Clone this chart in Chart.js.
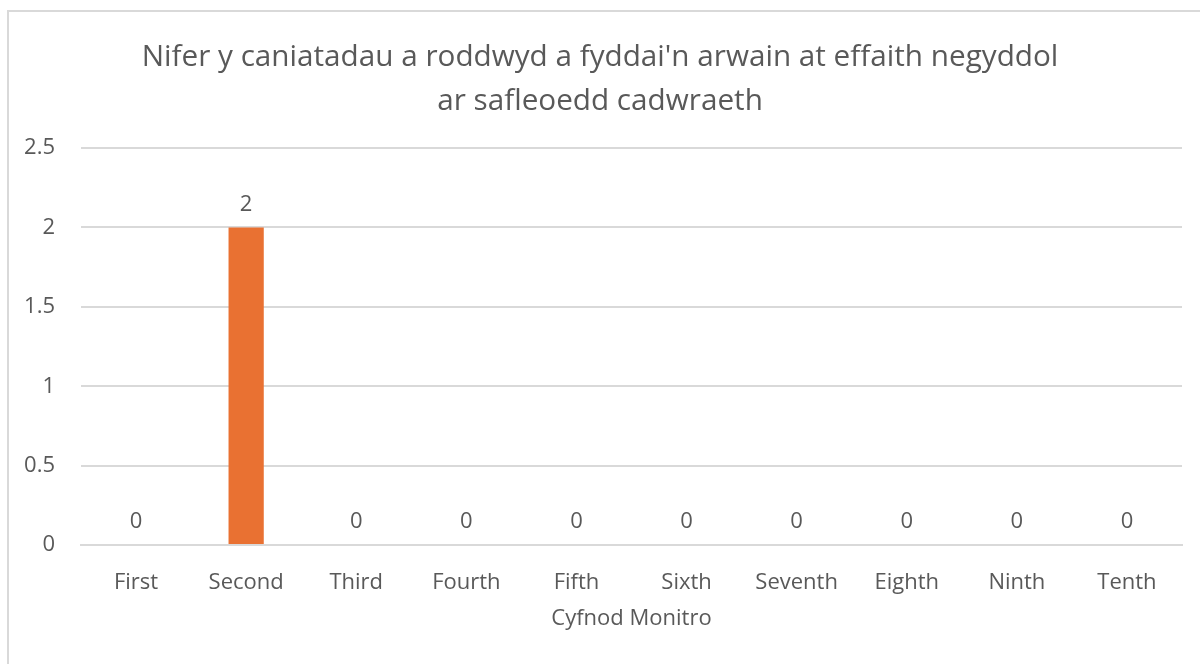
<!DOCTYPE html>
<html>
<head>
<meta charset="utf-8">
<script src="https://cdn.jsdelivr.net/npm/chart.js@4.4.1/dist/chart.umd.min.js"></script>
<style>
  html, body { margin: 0; padding: 0; background: #fff; overflow: hidden; }
  #frame {
    position: absolute; left: 7px; top: 10px; width: 1300px; height: 800px;
    border: 2px solid #d9d9d9; box-sizing: border-box;
  }
  #wrap { position: absolute; left: 0; top: 0; width: 1200px; height: 664px; }
</style>
</head>
<body>
<div id="frame"></div>
<div id="wrap"><canvas id="chart" width="1200" height="664"></canvas></div>
<script>
// chart data
const periods = ['First', 'Second', 'Third', 'Fourth', 'Fifth', 'Sixth', 'Seventh', 'Eighth', 'Ninth', 'Tenth'];
const permits = [0, 2, 0, 0, 0, 0, 0, 0, 0, 0];
const yTicks = [0, 0.5, 1, 1.5, 2, 2.5];
const titleLines = ["Nifer y caniatadau a roddwyd a fyddai'n arwain at effaith negyddol", 'ar safleoedd cadwraeth'];
const xTitle = 'Cyfnod Monitro';

const FONT = "'Open Sans', 'Noto Sans', sans-serif";
const TEXT = '#595959';

// draws the value above each bar
const valueLabels = {
  id: 'valueLabels',
  afterDatasetsDraw(chart) {
    const ctx = chart.ctx;
    const meta = chart.getDatasetMeta(0);
    ctx.save();
    ctx.font = '22px ' + FONT;
    ctx.fillStyle = TEXT;
    ctx.textAlign = 'center';
    ctx.textBaseline = 'bottom';
    meta.data.forEach((bar, i) => {
      ctx.fillText(String(permits[i]), bar.x, bar.y - 12);
    });
    ctx.restore();
  }
};

new Chart(document.getElementById('chart'), {
  type: 'bar',
  data: {
    labels: periods,
    datasets: [{
      data: permits,
      backgroundColor: '#E97132',
      categoryPercentage: 1,
      barPercentage: 0.32
    }]
  },
  options: {
    responsive: false,
    animation: false,
    layout: { padding: { left: 18, right: 18, top: 35, bottom: 0 } },
    plugins: {
      legend: { display: false },
      tooltip: { enabled: false },
      title: {
        display: true,
        text: titleLines,
        color: TEXT,
        font: { family: FONT, size: 29.7, weight: 'normal', lineHeight: 1.5 },
        padding: { top: 0, bottom: 24 }
      }
    },
    scales: {
      x: {
        afterFit: (scale) => { scale.height = 119; },
        grid: { display: false, drawTicks: false },
        border: { color: '#d9d9d9', width: 2 },
        ticks: { color: TEXT, font: { family: FONT, size: 22 }, padding: 25 },
        title: {
          display: true, text: xTitle, color: TEXT,
          font: { family: FONT, size: 22 }, padding: { top: 0, bottom: 32 }
        }
      },
      y: {
        min: 0, max: 2.5,
        afterBuildTicks: (scale) => { scale.ticks = yTicks.map(v => ({ value: v })); },
        afterFit: (scale) => { scale.width = 63; },
        grid: { color: '#d9d9d9', lineWidth: 2, drawTicks: false },
        border: { display: false },
        ticks: { color: TEXT, font: { family: FONT, size: 22 }, padding: 26, callback: (v) => String(v) }
      }
    }
  },
  plugins: [valueLabels]
});
</script>
</body>
</html>
